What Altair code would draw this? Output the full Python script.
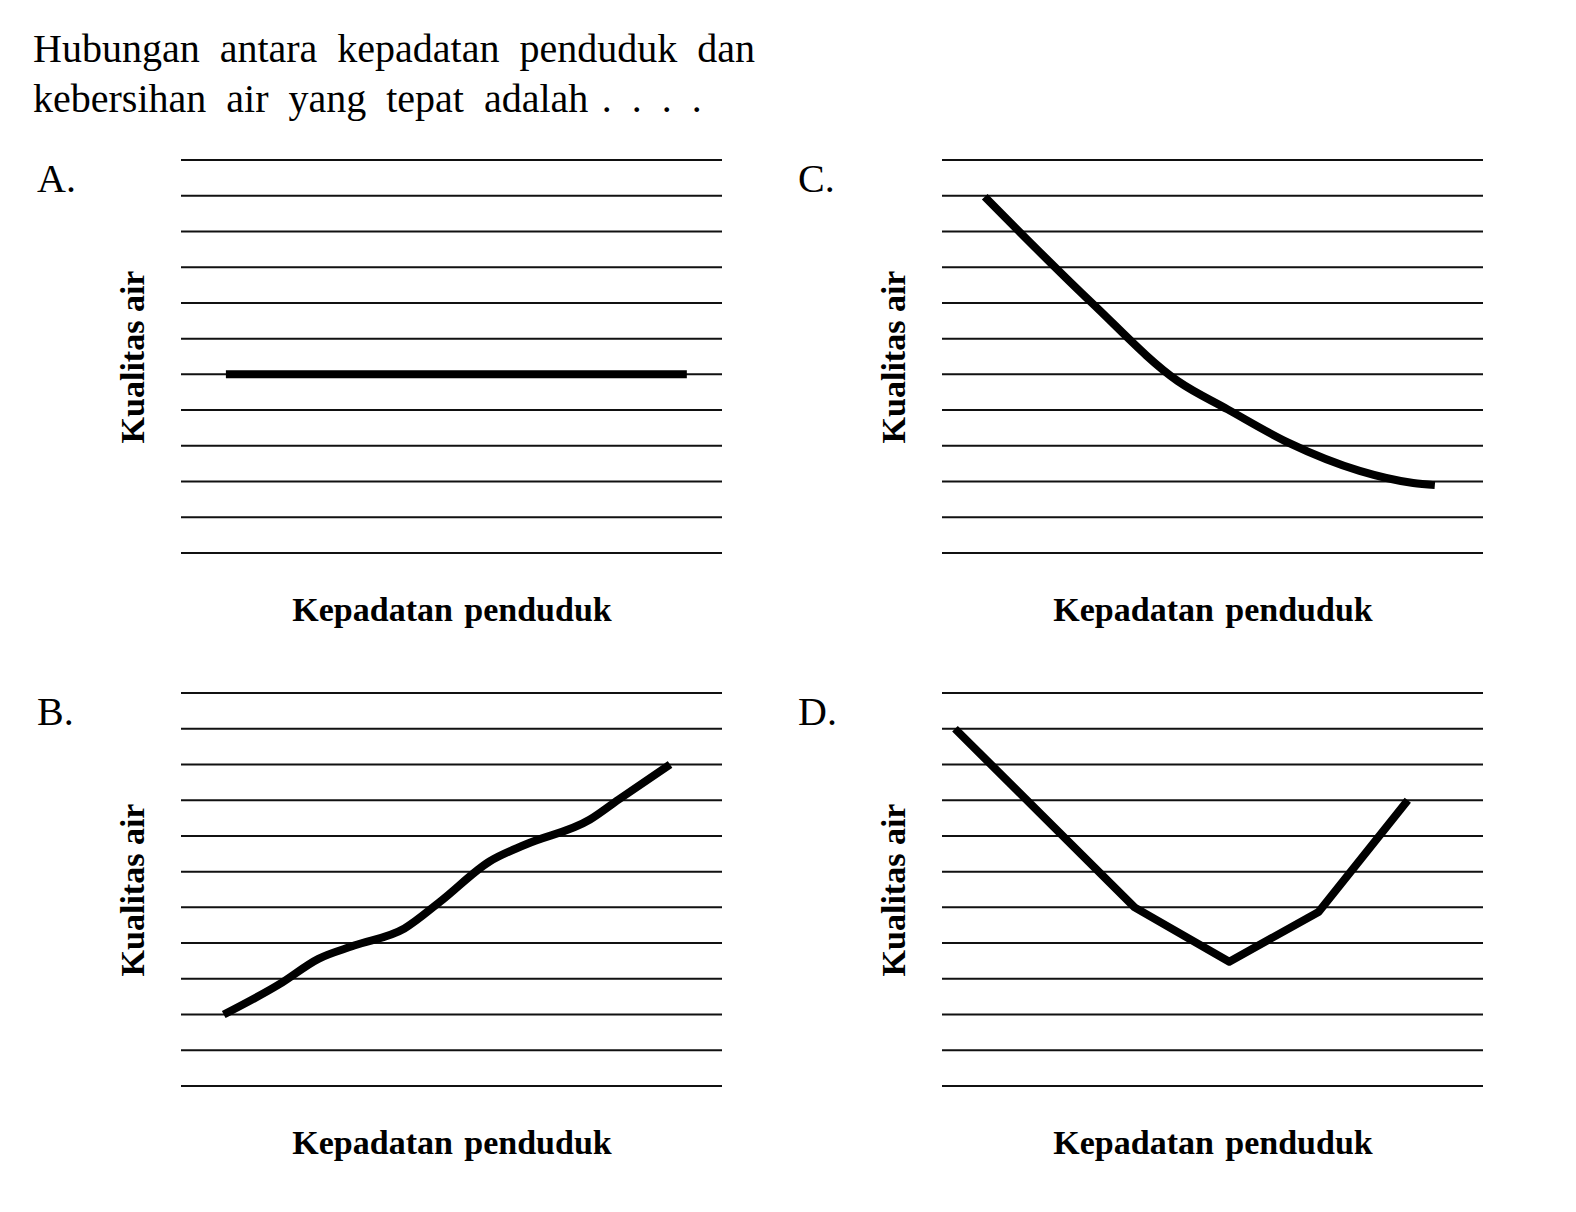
import altair as alt
import pandas as pd

# ---------------- data ----------------
SP = "\u2002"   # wide (justified-looking) word space
SP3 = "\u2004"  # slightly narrower space
TITLE_LINES = [SP.join(["Hubungan", "antara", "kepadatan", "penduduk", "dan"]),
               SP.join(["kebersihan", "air", "yang", "tepat", "adalah"]) + SP3 + SP.join([".", ".", ".", "."])]
X_TITLE = "Kepadatan" + SP3 + "penduduk"
Y_TITLE = "Kualitas air"
GRID_LEVELS = list(range(12))          # 12 ruled lines, level 0 (bottom) .. 11 (top)

A_LABEL = "A."
A_X = [8.3, 93.5]
A_Y = [5.0, 5.0]

B_LABEL = "B."
B_X = [7.9, 18.2, 25.4, 32.0, 41.3, 47.9, 57.1, 63.7, 75.6, 80.9, 90.4]
B_Y = [2.0, 2.85, 3.56, 3.93, 4.41, 5.16, 6.29, 6.76, 7.46, 8.02, 9.0]

C_LABEL = "C."
C_X = [7.9, 27.7, 43.6, 52.8, 64.0, 77.2, 87.1, 91.1]
C_Y = [9.97, 7.0, 4.81, 4.02, 3.09, 2.30, 1.96, 1.9]

D_LABEL = "D."
D_X = [2.4, 35.6, 53.1, 69.6, 86.1]
D_Y = [10.0, 5.0, 3.48, 4.87, 8.0]

SERIF = "Liberation Serif"
PANEL_W = 541
PANEL_H = 393


def y_enc():
    return alt.Y(
        "y:Q",
        scale=alt.Scale(domain=[0, 11], nice=False, zero=False),
        axis=alt.Axis(title=Y_TITLE, labels=False, ticks=False, domain=False,
                      grid=False, titleFont=SERIF, titleFontSize=34,
                      titleFontWeight="bold", titleColor="black",
                      titlePadding=31),
    )


def panel(label, xs, ys, interp):
    grid = alt.Chart(pd.DataFrame({"y": GRID_LEVELS})).mark_rule(
        color="#111111", strokeWidth=2
    ).encode(y=y_enc())

    curve = alt.Chart(pd.DataFrame({"x": xs, "y": ys, "o": list(range(len(xs)))})).mark_line(
        color="black", strokeWidth=8, interpolate=interp,
        strokeCap="butt", strokeJoin="round"
    ).encode(
        x=alt.X("x:Q", scale=alt.Scale(domain=[0, 100], nice=False, zero=False),
                axis=alt.Axis(title=X_TITLE, labels=False, ticks=False, domain=False,
                              grid=False, titleFont=SERIF, titleFontSize=34,
                              titleFontWeight="bold", titleColor="black",
                              titlePadding=40)),
        y=y_enc(),
        order="o:Q",
    )

    letter = alt.Chart(pd.DataFrame({"t": [label]})).mark_text(
        font=SERIF, fontSize=40, align="left", baseline="alphabetic", color="black"
    ).encode(text="t:N", x=alt.value(-144), y=alt.value(32))

    return alt.layer(grid, curve, letter).properties(width=PANEL_W, height=PANEL_H)


pA = panel(A_LABEL, A_X, A_Y, "linear")
pB = panel(B_LABEL, B_X, B_Y, "monotone")
pC = panel(C_LABEL, C_X, C_Y, "monotone")
pD = panel(D_LABEL, D_X, D_Y, "linear")

chart = alt.concat(
    pA, pC, pB, pD, columns=2,
    spacing=alt.RowColnumber(row=140, column=220),
    bounds="flush",
).properties(
    title=alt.TitleParams(
        text=TITLE_LINES, anchor="start", frame="group", dx=-148, offset=39,
        font=SERIF, fontSize=40, fontWeight="normal", lineHeight=50, color="black"
    ),
    padding={"left": 33, "top": 30, "right": 5, "bottom": 5},
    background="white",
).configure_view(stroke=None)

chart.save("out.html", embed_options={"renderer": "svg", "actions": False})
